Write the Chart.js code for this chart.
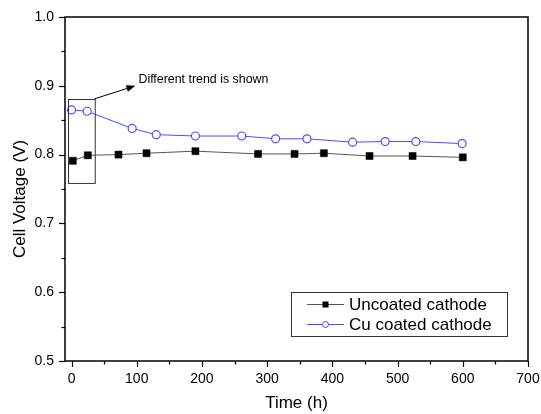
<!DOCTYPE html>
<html lang="en">
<head>
    <meta charset="UTF-8">
    <title>Cell Voltage vs Time</title>
    <script src="https://cdn.jsdelivr.net/npm/chart.js"></script>
    <style>
        html, body {
            margin: 0;
            padding: 0;
            background: #fff;
        }
        #wrap {
            width: 541px;
            height: 414px;
        }
    </style>
</head>
<body>
    <div id="wrap"><canvas id="voltChart" width="541" height="414"></canvas></div>

    <script>
        // data
        const timeUncoated = [2, 25, 72, 115, 190, 286, 342, 387, 457, 523, 600];
        const voltUncoated = [0.791, 0.799, 0.800, 0.802, 0.805, 0.801, 0.801, 0.802, 0.798, 0.798, 0.796];
        const timeCu = [0, 24, 93, 130, 190, 261, 313, 361, 431, 481, 528, 599];
        const voltCu = [0.865, 0.863, 0.838, 0.829, 0.827, 0.827, 0.823, 0.823, 0.818, 0.819, 0.819, 0.816];

        const xTicks = [0, 100, 200, 300, 400, 500, 600, 700];
        const yTicks = [0.5, 0.6, 0.7, 0.8, 0.9, 1.0];
        const seriesNames = ['Uncoated cathode', 'Cu coated cathode'];
        const xTitle = 'Time (h)';
        const yTitle = 'Cell Voltage (V)';
        const noteText = 'Different trend is shown';

        const FONT = '"Liberation Sans", Arial, sans-serif';

        // axes ticks (major + minor), frame, titles, annotation and legend
        const decor = {
            id: 'decor',
            afterDraw(chart) {
                const ctx = chart.ctx;
                const a = chart.chartArea;
                const xs = chart.scales.x, ys = chart.scales.y;
                ctx.save();
                ctx.strokeStyle = '#000';
                ctx.lineWidth = 1.5;
                ctx.strokeRect(a.left, a.top, a.right - a.left, a.bottom - a.top);

                ctx.lineWidth = 1.2;
                for (let v = 0; v <= 700; v += 50) {
                    const px = Math.round(xs.getPixelForValue(v)) + 0.5;
                    const len = v % 100 === 0 ? 6 : 3.5;
                    ctx.beginPath();
                    ctx.moveTo(px, a.bottom);
                    ctx.lineTo(px, a.bottom + len);
                    ctx.stroke();
                }
                for (let i = 0; i <= 10; i++) {
                    const v = 0.5 + i * 0.05;
                    const py = Math.round(ys.getPixelForValue(v)) + 0.5;
                    const len = i % 2 === 0 ? 6 : 3.5;
                    ctx.beginPath();
                    ctx.moveTo(a.left, py);
                    ctx.lineTo(a.left - len, py);
                    ctx.stroke();
                }

                // axis titles
                ctx.fillStyle = '#000';
                ctx.font = '17px ' + FONT;
                ctx.textAlign = 'center';
                ctx.textBaseline = 'middle';
                ctx.fillText(xTitle, (a.left + a.right) / 2, 403);
                ctx.save();
                ctx.translate(20, 199);
                ctx.rotate(-Math.PI / 2);
                ctx.fillText(yTitle, 0, 0);
                ctx.restore();

                // annotation box around the first two points
                const bx0 = xs.getPixelForValue(-6), bx1 = xs.getPixelForValue(35);
                const by0 = ys.getPixelForValue(0.881), by1 = ys.getPixelForValue(0.759);
                ctx.strokeStyle = '#333';
                ctx.lineWidth = 1;
                ctx.strokeRect(Math.round(bx0) + 0.5, Math.round(by0) + 0.5, bx1 - bx0, by1 - by0);

                // arrow
                const sx = bx1, sy = by0;
                const tx = xs.getPixelForValue(98), ty = ys.getPixelForValue(0.900);
                const ang = Math.atan2(ty - sy, tx - sx);
                ctx.strokeStyle = '#000';
                ctx.fillStyle = '#000';
                ctx.beginPath();
                ctx.moveTo(sx, sy);
                ctx.lineTo(tx - 6 * Math.cos(ang), ty - 6 * Math.sin(ang));
                ctx.stroke();
                ctx.beginPath();
                ctx.moveTo(tx, ty);
                ctx.lineTo(tx - 9 * Math.cos(ang) + 3.5 * Math.sin(ang), ty - 9 * Math.sin(ang) - 3.5 * Math.cos(ang));
                ctx.lineTo(tx - 9 * Math.cos(ang) - 3.5 * Math.sin(ang), ty - 9 * Math.sin(ang) + 3.5 * Math.cos(ang));
                ctx.closePath();
                ctx.fill();

                ctx.font = '12.4px ' + FONT;
                ctx.textAlign = 'left';
                ctx.fillText(noteText, tx + 3, 80);

                // legend
                const lx = 291, ly = 292, lw = 216, lh = 44;
                ctx.strokeStyle = '#333';
                ctx.lineWidth = 1;
                ctx.strokeRect(lx + 0.5, ly + 0.5, lw, lh);
                ctx.font = '17px ' + FONT;
                chart.data.datasets.forEach((ds, i) => {
                    const yy = ly + 12 + i * 20;
                    ctx.strokeStyle = ds.borderColor;
                    ctx.lineWidth = 1;
                    ctx.beginPath();
                    ctx.moveTo(307, yy + 0.5);
                    ctx.lineTo(344, yy + 0.5);
                    ctx.stroke();
                    const cx = 325.5;
                    if (ds.pointStyle === 'rect') {
                        ctx.fillStyle = ds.pointBackgroundColor;
                        ctx.fillRect(cx - 3, yy - 2.5, 6, 6);
                    } else {
                        ctx.fillStyle = '#fff';
                        ctx.strokeStyle = ds.pointBorderColor;
                        ctx.beginPath();
                        ctx.arc(cx, yy + 0.5, 3, 0, Math.PI * 2);
                        ctx.fill();
                        ctx.stroke();
                    }
                    ctx.fillStyle = '#000';
                    ctx.fillText(ds.label, 349, yy + 1);
                });
                ctx.restore();
            }
        };

        const toPoints = (xs, ys) => xs.map((t, i) => ({ x: t, y: ys[i] }));

        new Chart(document.getElementById('voltChart').getContext('2d'), {
            type: 'line',
            data: {
                datasets: [{
                    label: seriesNames[0],
                    data: toPoints(timeUncoated, voltUncoated),
                    borderColor: '#555',
                    borderWidth: 1,
                    pointStyle: 'rect',
                    pointRadius: 5,
                    pointBackgroundColor: '#000',
                    pointBorderColor: '#000',
                    pointBorderWidth: 0.5,
                    tension: 0
                }, {
                    label: seriesNames[1],
                    data: toPoints(timeCu, voltCu),
                    borderColor: '#4d4dff',
                    borderWidth: 1,
                    pointStyle: 'circle',
                    pointRadius: 4,
                    pointBackgroundColor: '#fff',
                    pointBorderColor: '#4d4dff',
                    pointBorderWidth: 1.2,
                    tension: 0
                }]
            },
            options: {
                responsive: false,
                animation: false,
                events: [],
                layout: { padding: { top: 17, right: 13, left: 0, bottom: 0 } },
                plugins: {
                    legend: { display: false },
                    tooltip: { enabled: false }
                },
                scales: {
                    x: {
                        type: 'linear',
                        min: -10,
                        max: 700,
                        afterBuildTicks: s => { s.ticks = xTicks.map(v => ({ value: v })); },
                        afterFit: s => { s.height = 53; s.paddingLeft = 0; s.paddingRight = 0; },
                        grid: { display: false, drawTicks: false },
                        border: { display: false },
                        ticks: {
                            padding: 10,
                            color: '#000',
                            font: { family: FONT, size: 14 },
                            maxRotation: 0
                        }
                    },
                    y: {
                        min: 0.5,
                        max: 1.0,
                        afterBuildTicks: s => { s.ticks = yTicks.map(v => ({ value: v })); },
                        afterFit: s => { s.width = 65; s.paddingTop = 0; s.paddingBottom = 0; },
                        grid: { display: false, drawTicks: false },
                        border: { display: false },
                        ticks: {
                            padding: 11,
                            color: '#000',
                            font: { family: FONT, size: 14 },
                            callback: v => v.toFixed(1)
                        }
                    }
                }
            },
            plugins: [decor]
        });
    </script>
</body>
</html>
